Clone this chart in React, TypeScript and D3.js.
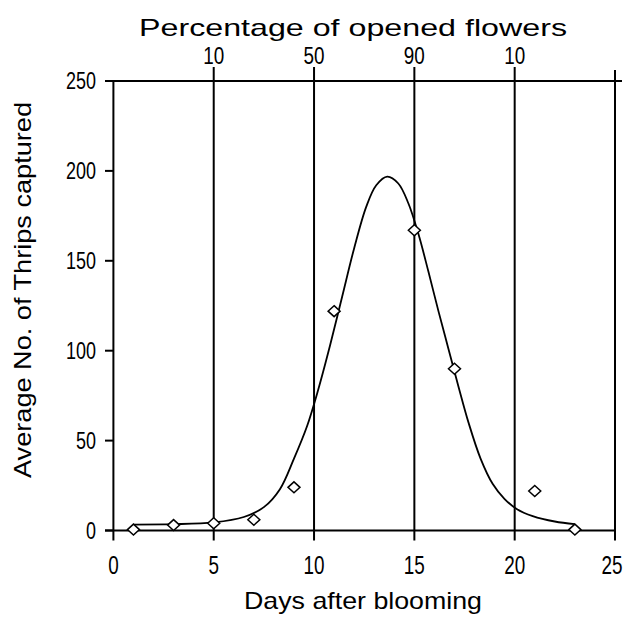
import React from 'react';
import * as d3 from 'd3';

// observed points
const days = [1, 3, 5, 7, 9, 11, 15, 17, 21, 23];
const thrips = [0.5, 3, 4, 6, 24, 122, 167, 90, 22, 0.5];

// fitted curve
const curveDays = [1, 3, 5, 6.5, 7.5, 8.3, 9, 9.65, 10.2, 10.8, 11.4, 12, 12.6, 13.1, 13.65, 14.2, 14.7, 15.2, 15.7, 16.2, 16.7, 17.2, 17.7, 18.3, 18.9, 19.5, 20.1, 20.9, 22, 23];
const curveThrips = [3.3, 3.5, 4.5, 7.5, 13, 23, 40, 58, 78, 103, 130, 157, 180, 192, 196.8, 193, 182, 165, 144, 122, 101, 80, 60, 40, 26, 17.5, 12, 8, 5, 3.6];

const xTicks = [0, 5, 10, 15, 20, 25];
const yTicks = [0, 50, 100, 150, 200, 250];
const topTickDays = [5, 10, 15, 20];
const topTickLabels = ['10', '50', '90', '10'];

const W = 629;
const H = 625;
const FONT = 'Liberation Sans, Arial, sans-serif';

export default function App() {
  const x = d3.scaleLinear().domain([0, 25]).range([113.4, 615]);
  const y = d3.scaleLinear().domain([0, 250]).range([530.5, 81]);

  const line = d3.line<number>()
    .x((_, i) => x(curveDays[i]))
    .y(d => y(d))
    .curve(d3.curveCatmullRom.alpha(0.5));

  const diamond = (cx: number, cy: number) =>
    `M${cx},${cy - 5.5}L${cx + 6},${cy}L${cx},${cy + 5.5}L${cx - 6},${cy}Z`;

  const top = y(250);
  const bottom = y(0);

  return (
    <svg width={W} height={H} style={{ position: 'absolute', left: 0, top: 0, background: '#fff' }}>
      <rect width={W} height={H} fill="#fff" />

      {/* title */}
      <text x={139} y={36} fontFamily={FONT} fontSize={24} textLength={428} lengthAdjust="spacingAndGlyphs">
        Percentage of opened flowers
      </text>

      {/* top ticks */}
      {topTickDays.map((d, i) => (
        <text key={'tt' + i} x={x(d)} y={64} textAnchor="middle" fontFamily={FONT} fontSize={24}
          textLength={topTickLabels[i].length * 10.5} lengthAdjust="spacingAndGlyphs">
          {topTickLabels[i]}
        </text>
      ))}

      <g stroke="#000" strokeWidth={2} fill="none">
        {/* frame lines */}
        <line x1={105} x2={622} y1={top} y2={top} />
        <line x1={105} x2={x(25)} y1={bottom} y2={bottom} />
        <line x1={x(0)} x2={x(0)} y1={top} y2={bottom + 10} />
        <line x1={x(25)} x2={x(25)} y1={70} y2={bottom + 10} />
        {topTickDays.map(d => (
          <line key={'v' + d} x1={x(d)} x2={x(d)} y1={67} y2={bottom + 10} />
        ))}
        {yTicks.map(t => (
          <line key={'yt' + t} x1={105} x2={x(0)} y1={y(t)} y2={y(t)} />
        ))}
      </g>

      {/* x tick labels */}
      {xTicks.map(t => (
        <text key={'xl' + t} x={t === 25 ? x(t) - 3 : x(t)} y={574} textAnchor="middle" fontFamily={FONT} fontSize={26}
          textLength={String(t).length * 10.5} lengthAdjust="spacingAndGlyphs">
          {t}
        </text>
      ))}

      {/* y tick labels */}
      {yTicks.map(t => (
        <text key={'yl' + t} x={96} y={y(t) + 8} textAnchor="end" fontFamily={FONT} fontSize={24}
          textLength={String(t).length * 10} lengthAdjust="spacingAndGlyphs">
          {t}
        </text>
      ))}

      {/* fitted curve */}
      <path d={line(curveThrips) || ''} fill="none" stroke="#000" strokeWidth={1.8} />

      {/* observed points */}
      {days.map((d, i) => (
        <path key={'p' + i} d={diamond(x(d), y(thrips[i]))} fill="#fff" stroke="#000" strokeWidth={1.5} />
      ))}

      {/* axis titles */}
      <text x={363} y={609} textAnchor="middle" fontFamily={FONT} fontSize={24} textLength={238} lengthAdjust="spacingAndGlyphs">
        Days after blooming
      </text>
      <text transform="translate(31,290) rotate(-90)" textAnchor="middle" fontFamily={FONT} fontSize={24}
        textLength={376} lengthAdjust="spacingAndGlyphs">
        Average No. of Thrips captured
      </text>
    </svg>
  );
}
